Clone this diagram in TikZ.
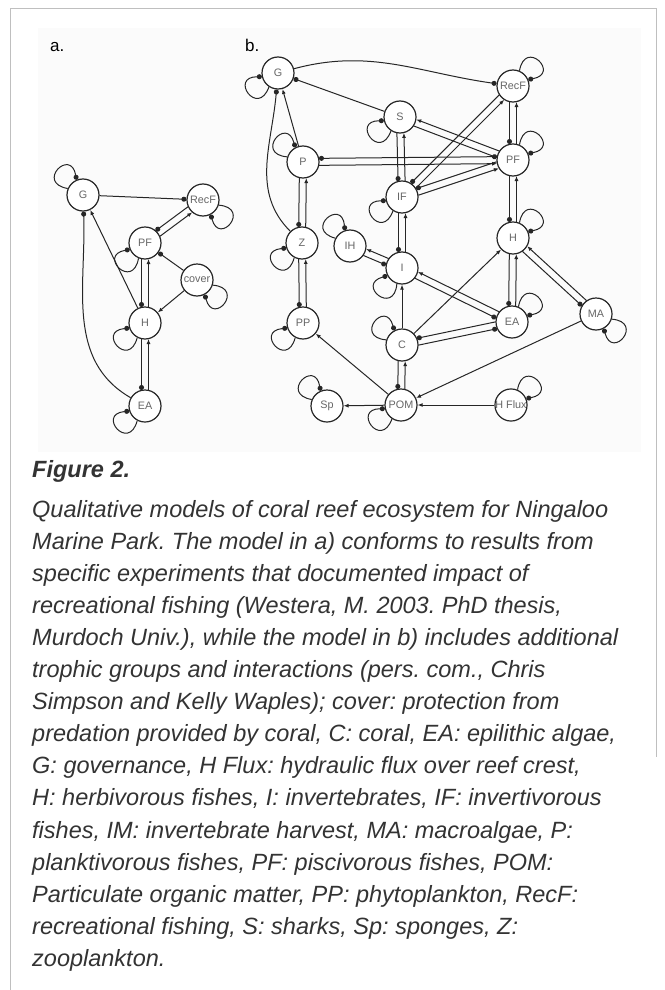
\documentclass[tikz,border=0pt]{standalone}
\usepackage{fontspec}
\setmainfont{Liberation Sans}
\usetikzlibrary{arrows.meta,calc}
\newcommand\tw[3]{\draw[#1,twin] ($(#2.center)!3.5pt!-90:(#3.center)$) -- ($(#3.center)!3.5pt!90:(#2.center)$);}
\begin{document}
\frenchspacing
\begin{tikzpicture}[x=1pt,y=1pt,
  sp/.style={circle,draw=black!85,line width=1.2pt,minimum size=32pt,inner sep=0pt,fill=white,font=\fontsize{10.8}{10.8}\selectfont,text=black!60},
  lk/.style={line width=1pt,draw=black!85},
  plusarr/.style={lk,-{Latex[length=5pt,width=4pt]}},
  minusarr/.style={lk,-{Circle[length=5pt]}},
  twin/.style={shorten >=16pt,shorten <=16pt},
  lbl/.style={font=\fontsize{17}{17}\selectfont,anchor=base west,inner sep=0pt},
  captext/.style={font=\fontsize{23.5}{23.5}\selectfont\itshape,anchor=base west,inner sep=0pt,text=black!80},
  frame/.style={draw=black!25,line width=0.8pt}
]
\useasboundingbox (0,0) rectangle (664,-990);
\fill[black!1.5] (38,-28) rectangle (641,-452);
\draw[frame] (10,-990) -- (10,-8) -- (656,-8) -- (656,-757);

\node[lbl] (la) at (50,-52) {a.};
\node[lbl] (lb) at (245,-52) {b.};

% panel a
\node[sp] (aG) at (83,-195) {G};
\node[sp] (aRecF) at (203,-200) {RecF};
\node[sp] (aPF) at (145,-243) {PF};
\node[sp] (acover) at (197,-280) {cover};
\node[sp] (aH) at (145,-323) {H};
\node[sp] (aEA) at (145,-406) {EA};

\draw[minusarr] (aG) -- (aRecF);
\tw{minusarr}{aRecF}{aPF} \tw{plusarr}{aPF}{aRecF}
\draw[minusarr] (acover) -- (aPF);
\draw[plusarr] (acover) -- (aH);
\tw{minusarr}{aPF}{aH} \tw{plusarr}{aH}{aPF}
\draw[plusarr] (aH) -- (aG);
\draw[minusarr] (aEA) to[out=150,in=272] (aG);
\tw{minusarr}{aH}{aEA} \tw{plusarr}{aEA}{aH}

% panel b
\node[sp] (bG) at (278,-73) {G};
\node[sp] (bS) at (400,-117) {S};
\node[sp] (bP) at (303,-162) {P};
\node[sp] (bIF) at (402,-197) {IF};
\node[sp] (bZ) at (302,-243) {Z};
\node[sp] (bIH) at (350,-246) {IH};
\node[sp] (bI) at (402,-268) {I};
\node[sp] (bRecF) at (513,-86) {RecF};
\node[sp] (bPF) at (513,-160) {PF};
\node[sp] (bH) at (513,-238) {H};
\node[sp] (bPP) at (303,-323) {PP};
\node[sp] (bC) at (402,-345) {C};
\node[sp] (bEA) at (512,-322) {EA};
\node[sp] (bMA) at (596,-314) {MA};
\node[sp] (bSp) at (327,-406) {Sp};
\node[sp] (bPOM) at (401,-405) {POM};
\node[sp] (bHF) at (511,-405) {H Flux};

\draw[minusarr] (bG) to[out=15,in=172] (bRecF);
\draw[minusarr] (bS) -- (bG);
\draw[plusarr] (bP) -- (bG);
\draw[minusarr] (bZ) to[out=135,in=265] (bG);
\tw{plusarr}{bP}{bPF} \tw{minusarr}{bPF}{bP}
\tw{minusarr}{bP}{bZ} \tw{plusarr}{bZ}{bP}
\tw{minusarr}{bZ}{bPP} \tw{plusarr}{bPP}{bZ}
\tw{minusarr}{bS}{bIF} \tw{plusarr}{bIF}{bS}
\tw{minusarr}{bS}{bPF} \tw{plusarr}{bPF}{bS}
\tw{minusarr}{bRecF}{bIF} \tw{plusarr}{bIF}{bRecF}
\tw{plusarr}{bIF}{bPF} \tw{minusarr}{bPF}{bIF}
\tw{minusarr}{bRecF}{bPF} \tw{plusarr}{bPF}{bRecF}
\tw{minusarr}{bPF}{bH} \tw{plusarr}{bH}{bPF}
\tw{minusarr}{bIF}{bI} \tw{plusarr}{bI}{bIF}
\tw{minusarr}{bIH}{bI} \tw{plusarr}{bI}{bIH}
\tw{minusarr}{bI}{bEA} \tw{plusarr}{bEA}{bI}
\tw{minusarr}{bC}{bEA} \tw{minusarr}{bEA}{bC}
\draw[plusarr] (bC) -- (bI);
\draw[plusarr] (bC) -- (bH);
\tw{minusarr}{bC}{bPOM} \tw{plusarr}{bPOM}{bC}
\draw[plusarr] (bPOM) -- (bPP);
\draw[plusarr] (bPOM) -- (bSp);
\draw[plusarr] (bMA) -- (bPOM);
\draw[plusarr] (bHF) -- (bPOM);
\tw{minusarr}{bH}{bMA} \tw{plusarr}{bMA}{bH}
\tw{minusarr}{bH}{bEA} \tw{plusarr}{bEA}{bH}

% self loops
\foreach \n/\d in {aG/135,aRecF/320,aPF/225,acover/320,aH/220,aEA/220,
  bG/215,bS/215,bP/140,bIF/215,bZ/220,bIH/130,bI/230,bC/140,bRecF/45,bPF/45,
  bH/45,bEA/45,bMA/320,bHF/45,bPP/220,bSp/135,bPOM/215}{
  \pgfmathtruncatemacro\sa{mod(\d+22+360,360)}
  \pgfmathtruncatemacro\ea{mod(\d-22+360,360)}
  \pgfmathtruncatemacro\ca{mod(\d+35+360,360)}
  \pgfmathtruncatemacro\cb{mod(\d-35+360,360)}
  \draw[minusarr] (\n.\sa) .. controls +(\ca:33) and +(\cb:33) .. (\n.\ea);
}

% caption
\node[captext,font=\fontsize{23.5}{23.5}\selectfont\bfseries\itshape] (fig) at (32,-477) {Figure 2.};
\foreach \t [count=\i from 0] in {
 {Qualitative models of coral reef ecosystem for Ningaloo},
 {Marine Park. The model in a) conforms to results from},
 {specific experiments that documented impact of},
 {recreational fishing (Westera, M. 2003. PhD thesis,},
 {Murdoch Univ.), while the model in b) includes additional},
 {trophic groups and interactions (pers. com., Chris},
 {Simpson and Kelly Waples); cover: protection from},
 {predation provided by coral, C: coral, EA: epilithic algae,},
 {G: governance, H Flux: hydraulic flux over reef crest,},
 {H: herbivorous fishes, I: invertebrates, IF: invertivorous},
 {fishes, IM: invertebrate harvest, MA: macroalgae, P:},
 {planktivorous fishes, PF: piscivorous fishes, POM:},
 {Particulate organic matter, PP: phytoplankton, RecF:},
 {recreational fishing, S: sharks, Sp: sponges, Z:},
 {zooplankton.}}{
  \node[captext] (cap\i) at (32,{-517-32.1*\i}) {\t};
}
\end{tikzpicture}
\end{document}
